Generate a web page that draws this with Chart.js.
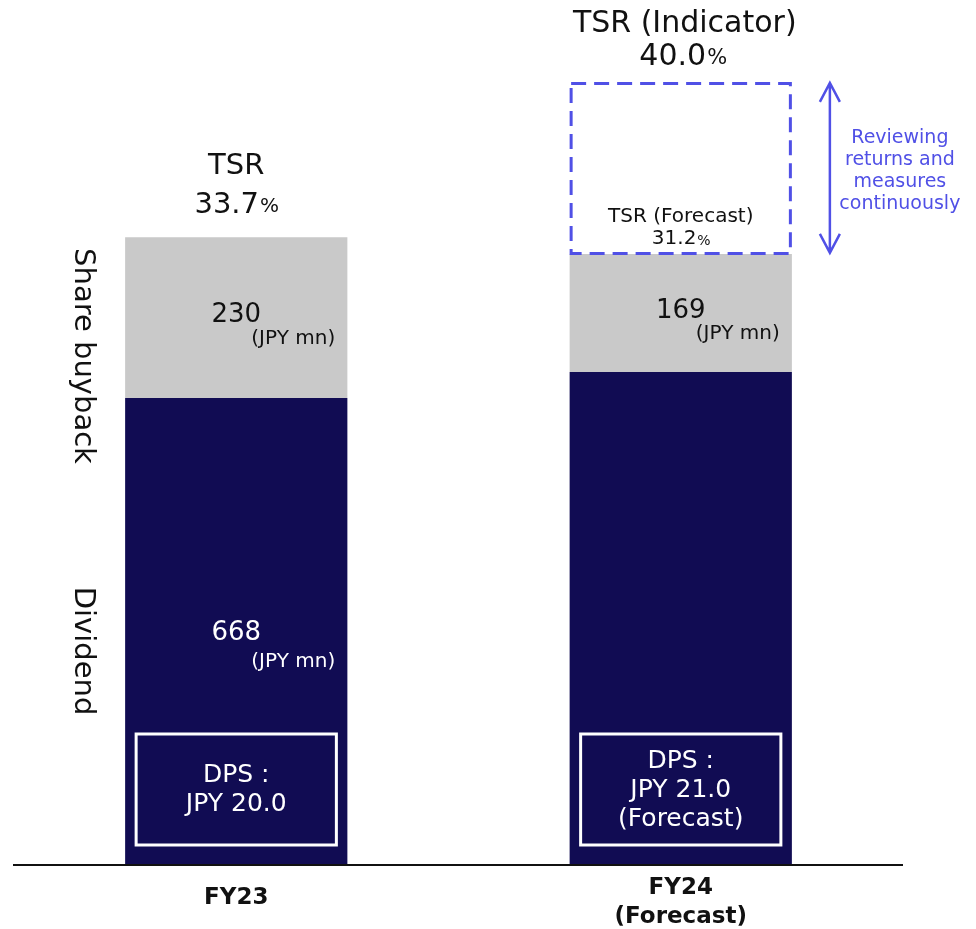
<!DOCTYPE html>
<html>
<head>
<meta charset="utf-8">
<script src="https://cdn.jsdelivr.net/npm/chart.js@4/dist/chart.umd.min.js"></script>
<style>
  html, body { margin: 0; padding: 0; background: #fff; }
  canvas { display: block; }
</style>
</head>
<body>
<canvas id="tsrChart" width="976" height="929"></canvas>
<script>
// shareholder returns, JPY mn
const years = ['FY23', 'FY24'];
const yearLabels = [['FY23'], ['FY24', '(Forecast)']];
const dividend = [668, 705];
const buyback = [230, 169];
const tsrGap = [0, 246];          // room up to the TSR indicator
const dpsLabels = [['DPS :', 'JPY 20.0'], ['DPS :', 'JPY 21.0', '(Forecast)']];
const tsrLabels = [['TSR', '33.7'], ['TSR (Indicator)', '40.0']];

const NAVY = '#110c53';
const GREY = '#c9c9c9';
const BLUE = '#5050e6';
const FONT = '"DejaVu Sans", "Noto Sans", sans-serif';

function font(size, weight) {
    return (weight || 'normal') + ' ' + size + 'px ' + FONT;
}

// number with a smaller "%" after it, centred as a whole
function pctText(ctx, txt, x, y, size) {
    ctx.font = font(size);
    const w1 = ctx.measureText(txt).width;
    ctx.font = font(Math.round(size * 0.7));
    const w2 = ctx.measureText('%').width;
    const left = x - (w1 + w2) / 2;
    ctx.textAlign = 'left';
    ctx.font = font(size);
    ctx.fillText(txt, left, y);
    ctx.font = font(Math.round(size * 0.7));
    ctx.fillText('%', left + w1 + 1, y + 2);
    ctx.textAlign = 'center';
}

const annotations = {
    id: 'annotations',
    afterDatasetsDraw(chart) {
        const ctx = chart.ctx;
        const area = chart.chartArea;
        const x = chart.scales.x;
        const divMeta = chart.getDatasetMeta(0);
        const bbMeta = chart.getDatasetMeta(1);
        const gapMeta = chart.getDatasetMeta(2);
        ctx.save();
        ctx.textBaseline = 'middle';

        // base line
        ctx.strokeStyle = '#111';
        ctx.lineWidth = 2;
        ctx.beginPath();
        ctx.moveTo(area.left - 1, area.bottom);
        ctx.lineTo(area.right, area.bottom);
        ctx.stroke();

        // category labels under the axis
        ctx.fillStyle = '#111';
        ctx.textAlign = 'center';
        ctx.font = font(23, 'bold');
        yearLabels.forEach((lines, i) => {
            const cx = x.getPixelForValue(i);
            const y0 = lines.length === 1 ? area.bottom + 33 : area.bottom + 23;
            lines.forEach((t, j) => ctx.fillText(t, cx, y0 + j * 29));
        });

        years.forEach((_, i) => {
            const d = divMeta.data[i];
            const b = bbMeta.data[i];
            const cx = d.x;
            const half = d.width / 2;

            // value labels inside the stacks
            ctx.textAlign = 'center';
            ctx.fillStyle = '#111';
            ctx.font = font(26);
            ctx.fillText(String(buyback[i]), cx, (b.y + b.base) / 2 - 2);
            ctx.font = font(20);
            ctx.fillText('(JPY mn)', cx + 57, (b.y + b.base) / 2 + 21);

            if (i === 0) {
                ctx.fillStyle = '#fff';
                ctx.font = font(26);
                ctx.fillText(String(dividend[i]), cx, d.y + 235);
                ctx.font = font(20);
                ctx.fillText('(JPY mn)', cx + 57, d.y + 264);
            }

            // DPS box near the bottom of the dividend bar
            ctx.strokeStyle = '#fff';
            ctx.lineWidth = 3;
            ctx.strokeRect(cx - half + 11, area.bottom - 131, d.width - 22, 111);
            ctx.fillStyle = '#fff';
            ctx.font = font(25);
            const lines = dpsLabels[i];
            const mid = area.bottom - 75;
            lines.forEach((t, j) => {
                ctx.fillText(t, cx, mid + (j - (lines.length - 1) / 2) * 29);
            });
        });

        // TSR above FY23
        const b0 = bbMeta.data[0];
        ctx.fillStyle = '#111';
        ctx.textAlign = 'center';
        ctx.font = font(29);
        ctx.fillText(tsrLabels[0][0], b0.x, b0.y - 71);
        pctText(ctx, tsrLabels[0][1], b0.x, b0.y - 32, 29);

        // dashed box for the gap to the FY24 indicator
        const g = gapMeta.data[1];
        const gl = g.x - g.width / 2;
        ctx.strokeStyle = BLUE;
        ctx.lineWidth = 3;
        ctx.setLineDash([15, 8]);
        ctx.strokeRect(gl + 1.5, g.y + 1.5, g.width - 3, g.base - g.y - 2);
        ctx.setLineDash([]);

        ctx.fillStyle = '#111';
        ctx.font = font(20);
        ctx.fillText('TSR (Forecast)', g.x, g.base - 37);
        pctText(ctx, '31.2', g.x, g.base - 15, 20);

        ctx.font = font(30);
        ctx.fillText(tsrLabels[1][0], g.x + 4, g.y - 58);
        pctText(ctx, tsrLabels[1][1], g.x + 2, g.y - 25, 30);

        // double arrow beside the gap
        const ax = g.x + g.width / 2 + 38;
        const top = g.y + 1, bot = g.base - 1;
        ctx.strokeStyle = BLUE;
        ctx.lineWidth = 2.5;
        ctx.beginPath();
        ctx.moveTo(ax, top);
        ctx.lineTo(ax, bot);
        ctx.moveTo(ax - 10, top + 19);
        ctx.lineTo(ax, top);
        ctx.lineTo(ax + 10, top + 19);
        ctx.moveTo(ax - 10, bot - 19);
        ctx.lineTo(ax, bot);
        ctx.lineTo(ax + 10, bot - 19);
        ctx.stroke();

        ctx.fillStyle = BLUE;
        ctx.textAlign = 'center';
        ctx.font = font(19);
        ['Reviewing', 'returns and', 'measures', 'continuously'].forEach((t, j) => {
            ctx.fillText(t, ax + 70, g.y + 56 + j * 22);
        });

        // rotated series names on the left
        ctx.fillStyle = '#111';
        ctx.font = font(29);
        const sideX = area.left + 69;
        [['Share buyback', 356], ['Dividend', 651]].forEach(([t, cy]) => {
            ctx.save();
            ctx.translate(sideX, cy);
            ctx.rotate(Math.PI / 2);
            ctx.textAlign = 'center';
            ctx.fillText(t, 0, 0);
            ctx.restore();
        });

        ctx.restore();
    }
};

new Chart(document.getElementById('tsrChart').getContext('2d'), {
    type: 'bar',
    data: {
        labels: years,
        datasets: [
            { label: 'Dividend', data: dividend, backgroundColor: NAVY },
            { label: 'Share buyback', data: buyback, backgroundColor: GREY },
            { label: 'TSR indicator', data: tsrGap, backgroundColor: 'rgba(0,0,0,0)' }
        ]
    },
    options: {
        responsive: false,
        animation: false,
        layout: { padding: { left: 14, right: 73, top: 26, bottom: 64 } },
        datasets: {
            bar: { barPercentage: 1, categoryPercentage: 0.5, borderWidth: 0 }
        },
        scales: {
            x: { stacked: true, display: false },
            y: { stacked: true, display: false, min: 0, max: 1200 }
        },
        plugins: {
            legend: { display: false },
            tooltip: { enabled: false }
        }
    },
    plugins: [annotations]
});
</script>
</body>
</html>
